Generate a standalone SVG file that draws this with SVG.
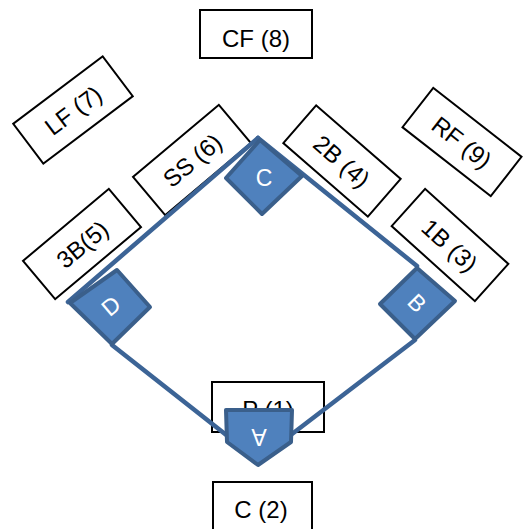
<svg xmlns="http://www.w3.org/2000/svg" width="526" height="529" viewBox="0 0 526 529">
<style>
.lbl rect{fill:#fff;stroke:#000;stroke-width:2}
text{font-family:"Liberation Sans",Arial,sans-serif;font-size:24px;text-anchor:middle}
.lbl text{fill:#000}
.base polygon{fill:#4f81bd;stroke:#3a5f8b;stroke-width:4;stroke-linejoin:round}
.base text{fill:#fff;font-size:23px}
.field line{stroke:#3c6496;stroke-width:4.5;stroke-linecap:round}
</style>
<rect width="526" height="529" fill="#fff"/>
<g id="CF" class="lbl"><rect x="200" y="10" width="112" height="48"/><text x="256" y="47">CF (8)</text></g>
<g id="LF" class="lbl" transform="translate(73,110) rotate(-37)"><rect x="-56" y="-25" width="112" height="50"/><text y="9">LF (7)</text></g>
<g id="RF" class="lbl" transform="translate(462,142) rotate(38)"><rect x="-56" y="-25" width="112" height="50"/><text y="9">RF (9)</text></g>
<g id="SS" class="lbl" transform="translate(192,160) rotate(-40)"><rect x="-56" y="-25" width="112" height="50"/><text y="9">SS (6)</text></g>
<g id="2B" class="lbl" transform="translate(342,161) rotate(41)"><rect x="-56" y="-25" width="112" height="50"/><text y="9">2B (4)</text></g>
<g id="3B" class="lbl" transform="translate(82,244) rotate(-40)"><rect x="-56" y="-25" width="112" height="50"/><text y="9">3B(5)</text></g>
<g id="1B" class="lbl" transform="translate(450,245) rotate(42)"><rect x="-56" y="-25" width="112" height="50"/><text y="9">1B (3)</text></g>
<g id="P" class="lbl"><rect x="212" y="382" width="112" height="50"/><text x="268" y="418">P (1)</text></g>
<g id="Catcher" class="lbl"><rect x="213" y="482" width="99" height="52"/><text x="261" y="518">C (2)</text></g>
<g id="connectors" class="field">
<line x1="68" y1="302" x2="258" y2="138"/>
<line x1="258" y1="138" x2="417" y2="266"/>
<line x1="112" y1="345" x2="258" y2="460"/>
<line x1="415" y1="340" x2="258" y2="460"/>
</g>
<g id="baseC" class="base"><polygon points="260,140 302,176 262,214 226,178"/><text x="264" y="186">C</text></g>
<g id="baseD" class="base"><polygon points="117,270 150,307 112,344 70,303"/><text transform="translate(111,306) rotate(-40)" y="8">D</text></g>
<g id="baseB" class="base"><polygon points="417,268 455,301 415,339 380,304"/><text transform="translate(417,303) rotate(45)" y="8">B</text></g>
<g id="baseA" class="base"><polygon points="226,410 292,410 291,442 258,465 227,442"/><text transform="translate(259,437) rotate(180)" y="8">A</text></g>
</svg>
